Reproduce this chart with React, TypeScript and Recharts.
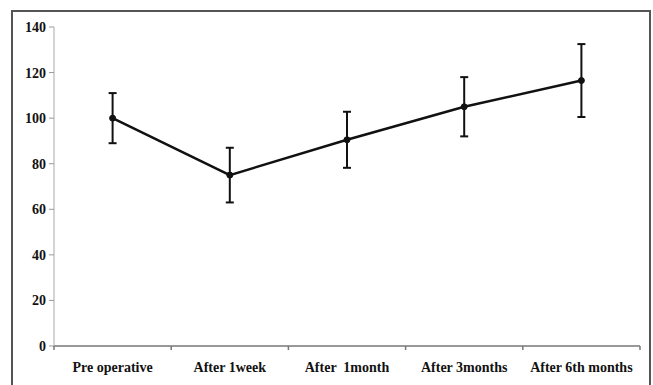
import React from 'react';
import { LineChart, Line, XAxis, YAxis, ErrorBar } from 'recharts';

const categories = ['Pre operative', 'After 1week', 'After  1month', 'After 3months', 'After 6th months'];
const meanValues = [100, 75, 90.5, 105, 116.5];
const errorValues = [11, 12, 12.3, 13, 16];
const yTicks = [0, 20, 40, 60, 80, 100, 120, 140];

const data = categories.map((name, i) => ({ name, value: meanValues[i], err: errorValues[i] }));

const FONT = '"Liberation Serif", "Times New Roman", serif';

const XTick = (props: any) => {
  const { x, y, payload, index, visibleTicksCount } = props;
  const off = payload && typeof payload.offset === 'number' ? payload.offset : 0;
  const last = visibleTicksCount ? index === visibleTicksCount - 1 : index === categories.length - 1;
  return (
    <g>
      {off > 0 && (
        <line x1={x - off} x2={x - off} y1={y - 4} y2={y} stroke="#777" strokeWidth={1.5} />
      )}
      {off > 0 && last && (
        <line x1={x + off} x2={x + off} y1={y - 4} y2={y} stroke="#777" strokeWidth={1.5} />
      )}
      <text
        x={x}
        y={y + 22}
        textAnchor="middle"
        fill="#111"
        style={{ fontFamily: FONT, fontWeight: 700, fontSize: 14, whiteSpace: 'pre' }}
        xmlSpace="preserve"
      >
        {payload.value}
      </text>
    </g>
  );
};

export default function App() {
  return (
    <div style={{ position: 'absolute', left: 0, top: 0, width: 653, height: 385, overflow: 'hidden', background: '#fff' }}>
      <div
        style={{
          position: 'absolute',
          left: 11,
          top: 10,
          width: 636,
          height: 400,
          border: '2px solid #555',
        }}
      />
      <div style={{ position: 'absolute', left: 0, top: 0 }}>
        <LineChart width={653} height={385} data={data} margin={{ top: 27, right: 13, bottom: 0, left: 0 }}>
          <XAxis
            dataKey="name"
            scale="band"
            height={39}
            tickLine={false}
            tickSize={4}
            tickMargin={0}
            axisLine={{ stroke: '#777', strokeWidth: 1.5 }}
            tick={<XTick />}
            interval={0}
          />
          <YAxis
            width={54}
            domain={[0, 140]}
            ticks={yTicks}
            interval={0}
            tickSize={5}
            tickMargin={3}
            axisLine={{ stroke: '#aaa', strokeWidth: 1 }}
            tickLine={{ stroke: '#999' }}
            tick={{ fill: '#111', fontFamily: FONT, fontWeight: 700, fontSize: 14 }}
          />
          <Line
            type="linear"
            dataKey="value"
            stroke="#111"
            strokeWidth={2.5}
            dot={{ r: 3, fill: '#111', stroke: '#111', strokeWidth: 1 }}
            isAnimationActive={false}
          >
            <ErrorBar dataKey="err" width={4} stroke="#111" strokeWidth={2} direction="y" />
          </Line>
        </LineChart>
      </div>
    </div>
  );
}
